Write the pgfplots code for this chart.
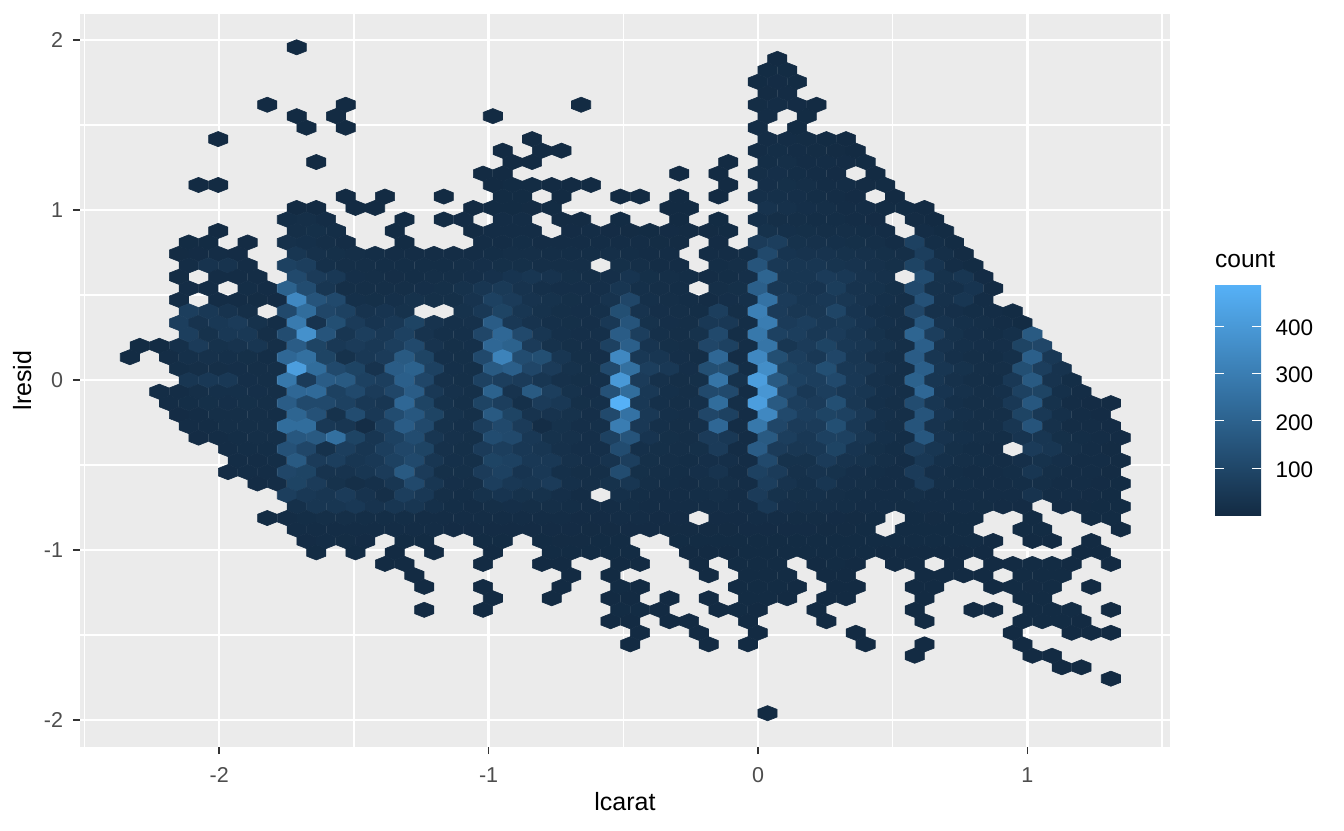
\documentclass[border=0pt]{standalone}
\usepackage{pgfplots}
\usepackage{pgfplotstable}
\usepackage{fontspec}
\setmainfont{Liberation Sans}
\pgfplotsset{compat=1.18}
\definecolor{panelgrey}{HTML}{EBEBEB}
\definecolor{tickgrey}{HTML}{333333}
\definecolor{textgrey}{HTML}{4D4D4D}
% pointy-top hexagon, 1pt = 1px of the reference
\pgfdeclareplotmark{hexb}{%
  \pgfsetlinewidth{0.6pt}%
  \pgfpathmoveto{\pgfqpoint{0pt}{7.6pt}}%
  \pgfpathlineto{\pgfqpoint{9.6pt}{3.8pt}}%
  \pgfpathlineto{\pgfqpoint{9.6pt}{-3.8pt}}%
  \pgfpathlineto{\pgfqpoint{0pt}{-7.6pt}}%
  \pgfpathlineto{\pgfqpoint{-9.6pt}{-3.8pt}}%
  \pgfpathlineto{\pgfqpoint{-9.6pt}{3.8pt}}%
  \pgfpathclose\pgfusepathqfillstroke}
% one line per hexbin row: lresid, half-bin shift of the row, counts of bins 0..50
\pgfplotstableread[header=false]{
1.957 1  0 0 0 0 0 0 0 0 1 0  0 0 0 0 0 0 0 0 0 0  0 0 0 0 0 0 0 0 0 0  0 0 0 0 0 0 0 0 0 0  0 0 0 0 0 0 0 0 0 0  0
1.889 0  0 0 0 0 0 0 0 0 0 0  0 0 0 0 0 0 0 0 0 0  0 0 0 0 0 0 0 0 0 0  0 0 0 2 0 0 0 0 0 0  0 0 0 0 0 0 0 0 0 0  0
1.822 1  0 0 0 0 0 0 0 0 0 0  0 0 0 0 0 0 0 0 0 0  0 0 0 0 0 0 0 0 0 0  0 0 3 4 0 0 0 0 0 0  0 0 0 0 0 0 0 0 0 0  0
1.754 0  0 0 0 0 0 0 0 0 0 0  0 0 0 0 0 0 0 0 0 0  0 0 0 0 0 0 0 0 0 0  0 0 4 6 3 0 0 0 0 0  0 0 0 0 0 0 0 0 0 0  0
1.687 1  0 0 0 0 0 0 0 0 0 0  0 0 0 0 0 0 0 0 0 0  0 0 0 0 0 0 0 0 0 0  0 0 5 6 0 0 0 0 0 0  0 0 0 0 0 0 0 0 0 0  0
1.619 0  0 0 0 0 0 0 0 1 0 0  0 1 0 0 0 0 0 0 0 0  0 0 0 1 0 0 0 0 0 0  0 0 7 9 6 2 0 0 0 0  0 0 0 0 0 0 0 0 0 0  0
1.552 1  0 0 0 0 0 0 0 0 1 0  1 0 0 0 0 0 0 0 1 0  0 0 0 0 0 0 0 0 0 0  0 0 8 0 3 0 0 0 0 0  0 0 0 0 0 0 0 0 0 0  0
1.484 0  0 0 0 0 0 0 0 0 0 1  0 1 0 0 0 0 0 0 0 0  0 0 0 0 0 0 0 0 0 0  0 0 8 0 3 0 0 0 0 0  0 0 0 0 0 0 0 0 0 0  0
1.417 1  0 0 0 0 1 0 0 0 0 0  0 0 0 0 0 0 0 0 0 0  1 0 0 0 0 0 0 0 0 0  0 0 8 9 7 4 2 0 0 0  0 0 0 0 0 0 0 0 0 0  0
1.349 0  0 0 0 0 0 0 0 0 0 0  0 0 0 0 0 0 0 0 0 1  0 1 1 0 0 0 0 0 0 0  0 0 9 12 10 7 5 2 0 0  0 0 0 0 0 0 0 0 0 0  0
1.282 1  0 0 0 0 0 0 0 0 0 1  0 0 0 0 0 0 0 0 0 2  2 0 0 0 0 0 0 0 0 0  1 0 12 14 10 8 6 4 0 0  0 0 0 0 0 0 0 0 0 0  0
1.214 0  0 0 0 0 0 0 0 0 0 0  0 0 0 0 0 0 0 0 1 2  0 0 0 0 0 0 0 0 1 0  1 0 14 16 12 8 6 0 2 0  0 0 0 0 0 0 0 0 0 0  0
1.147 1  0 0 0 1 1 0 0 0 0 0  0 0 0 0 0 0 0 0 2 3  3 2 2 1 0 0 0 0 0 0  1 0 16 18 14 10 8 5 3 0  0 0 0 0 0 0 0 0 0 0  0
1.079 0  0 0 0 0 0 0 0 0 0 0  0 1 0 1 0 0 1 0 0 3  4 0 2 0 0 1 1 0 1 0  1 0 20 20 16 12 8 6 0 2  0 0 0 0 0 0 0 0 0 0  0
1.012 1  0 0 0 0 0 0 0 0 2 2  0 2 2 0 0 0 0 2 3 4  5 3 0 0 0 0 0 2 2 0  0 0 30 22 16 14 10 8 4 3  2 0 0 0 0 0 0 0 0 0  0
0.944 0  0 0 0 0 0 0 0 0 12 15  10 0 0 0 3 0 3 6 0 8  8 0 5 5 0 3 0 0 2 0  3 0 20 15 14 12 12 10 6 0  5 2 0 0 0 0 0 0 0 0  0
0.877 1  0 0 0 0 2 0 0 0 15 18  12 0 0 3 0 0 0 5 8 10  8 0 6 8 6 5 4 6 5 5  4 0 25 20 18 15 14 12 8 0  10 3 0 0 0 0 0 0 0 0  0
0.809 0  0 0 0 3 4 0 5 0 22 20  15 8 0 0 3 0 0 0 8 10  12 8 8 9 10 8 8 7 5 0  6 0 60 70 25 22 20 18 14 10  80 12 3 0 0 0 0 0 0 0  0
0.742 1  0 0 5 6 8 6 0 0 40 22  18 14 12 10 10 10 8 10 12 14  15 12 12 12 14 12 10 8 0 8  10 12 110 35 30 30 25 22 18 14  70 15 5 0 0 0 0 0 0 0  0
0.674 0  0 0 0 8 30 30 10 0 80 70  20 15 14 12 12 12 12 14 16 18  18 15 14 14 0 18 14 10 10 0  12 15 150 50 40 40 32 30 22 18  90 35 10 4 0 0 0 0 0 0  0
0.607 1  0 0 7 0 10 8 8 0 110 60  50 16 14 13 12 14 14 16 24 35  40 30 18 15 16 35 18 14 12 10  12 16 210 40 40 60 50 30 22 0  120 25 40 6 0 0 0 0 0 0  0
0.539 0  0 0 0 10 10 0 12 8 200 120  40 15 14 14 14 16 18 25 40 55  30 20 16 16 16 40 20 14 12 0  14 18 190 50 40 35 65 30 25 18  110 25 20 35 5 0 0 0 0 0  0
0.471 1  0 0 9 0 10 8 7 6 340 150  110 20 18 20 25 18 18 30 80 60  30 25 18 16 30 100 20 15 12 10  16 20 260 60 40 50 45 30 20 15  140 22 40 8 0 0 0 0 0 0  0
0.404 0  0 0 0 70 50 30 15 0 110 240  100 80 30 35 25 0 0 25 50 90  40 25 18 16 20 130 30 16 14 12  70 14 310 60 45 45 95 35 20 15  100 22 16 12 8 3 0 0 0 0  0
0.336 1  0 0 70 30 50 60 25 12 290 30  130 60 35 50 90 30 20 22 180 50  30 20 18 16 50 150 25 16 14 50  50 12 300 60 70 50 55 35 20 15  160 30 20 14 10 4 0 0 0 0  0
0.269 0  0 0 0 70 25 50 50 15 120 370  150 40 70 50 80 30 20 20 100 220  110 40 20 16 20 180 70 20 14 25  110 12 280 80 70 50 60 40 25 15  210 70 25 16 12 20 170 0 0 0  0
0.201 1  4 4 20 60 25 30 40 14 180 90  50 60 50 70 110 30 18 20 220 200  60 25 18 16 80 190 35 18 14 100  80 12 270 40 60 90 50 40 25 15  190 30 20 16 16 90 100 0 0 0  0
0.134 0  3 0 10 20 22 20 18 12 220 250  90 25 50 60 170 90 20 18 110 320  120 130 40 18 16 340 50 40 16 12  220 10 340 130 70 50 100 40 22 15  180 40 20 14 12 20 190 50 0 0  0
0.066 1  0 0 12 14 15 16 14 14 420 240  110 90 30 180 200 80 20 18 170 190  100 60 25 18 110 250 70 50 16 130  130 12 360 90 70 130 50 45 22 14  190 40 25 14 14 130 70 30 0 0  0
-0.001 0  0 0 0 40 50 50 16 14 280 60  180 170 80 70 190 100 22 18 80 70  60 40 22 18 20 400 60 22 14 18  270 25 420 170 80 70 110 50 22 14  200 40 22 14 12 50 170 30 12 0  0
-0.069 1  0 8 10 14 20 20 16 14 220 230  80 110 60 100 180 50 22 18 200 30  170 70 25 16 140 240 50 20 14 110  110 10 390 100 50 70 50 40 20 14  220 35 22 14 20 80 90 20 10 0  0
-0.136 0  0 0 8 12 18 16 18 14 180 110  110 80 50 40 220 90 25 18 90 70  20 60 50 18 20 487 50 20 14 20  240 15 420 170 70 60 130 45 20 14  120 40 20 14 14 50 160 25 10 6  5
-0.204 1  0 0 6 10 14 14 14 12 210 140  25 120 50 120 160 90 25 18 170 90  30 30 25 16 110 260 50 20 16 100  80 10 340 110 70 90 80 50 20 14  150 35 20 14 14 90 50 20 10 6  0
-0.271 0  0 0 0 8 10 14 14 14 240 240  50 40 10 70 180 110 25 20 70 110  60 10 25 16 20 300 50 20 14 20  220 10 280 100 60 60 130 50 20 14  150 30 18 14 14 40 150 22 10 8  6
-0.339 1  0 0 0 6 8 12 14 14 160 170  250 90 40 80 120 40 22 18 120 110  50 25 22 16 80 150 35 18 14 60  50 10 170 70 50 80 80 40 20 12  160 30 20 14 12 35 40 18 12 8  6
-0.406 0  0 0 0 0 0 8 12 12 140 100  25 70 40 70 100 90 22 18 60 70  50 40 22 16 16 120 20 18 14 18  60 8 180 60 45 50 90 35 18 12  70 40 18 12 10 0 60 40 14 8  5
-0.474 1  0 0 0 0 0 8 10 12 170 60  70 40 50 80 110 40 20 18 90 80  50 50 22 16 30 70 18 14 12 16  16 8 110 25 25 60 30 25 14 10  50 20 14 12 10 16 25 16 10 8  5
-0.542 0  0 0 0 0 0 6 8 10 100 90  30 30 40 60 170 60 18 18 60 80  35 50 20 14 14 120 18 14 12 16  30 8 80 60 22 30 25 16 12 8  60 16 12 10 10 12 40 14 10 8  5
-0.609 1  0 0 0 0 0 0 6 8 90 60  25 15 20 40 110 40 16 14 70 50  40 60 20 14 25 40 14 12 10 14  14 8 70 30 20 40 16 14 10 8  60 14 12 10 10 12 14 10 8 6  4
-0.677 0  0 0 0 0 0 0 0 0 70 50  40 60 30 15 70 50 14 12 25 35  25 25 16 10 0 20 12 10 10 12  14 8 60 25 18 20 14 12 10 8  14 10 10 8 8 10 30 10 8 6  4
-0.744 1  0 0 0 0 0 0 0 0 20 40  40 50 30 40 40 20 12 10 14 16  14 14 12 10 10 12 10 8 8 10  10 8 50 16 14 14 12 10 8 7  10 8 8 7 6 6 0 6 5 4  3
-0.812 0  0 0 0 0 0 0 0 4 10 12  14 14 12 12 12 10 8 8 8 8  8 8 8 6 6 8 8 6 6 0  6 6 8 8 7 7 6 5 4 0  4 5 4 4 0 0 3 0 0 3  3
-0.879 1  0 0 0 0 0 0 0 0 8 10  10 10 10 10 8 8 6 6 6 6  6 6 6 5 5 6 6 5 5 5  5 6 6 6 6 5 5 4 0 4  4 4 3 0 0 3 3 0 0 0  2
-0.947 0  0 0 0 0 0 0 0 0 0 6  8 7 6 0 4 4 0 0 4 4  0 4 5 5 4 4 0 0 3 3  3 4 4 4 4 4 3 3 3 3  3 3 3 3 2 0 2 2 0 2  0
-1.014 1  0 0 0 0 0 0 0 0 0 3  0 3 0 2 0 2 0 0 2 0  0 3 3 3 3 3 0 0 2 2  2 3 4 4 3 3 3 3 2 2  2 2 2 2 0 0 0 0 2 2  0
-1.082 0  0 0 0 0 0 0 0 0 0 0  0 0 0 2 1 0 0 0 2 0  0 2 2 0 0 2 2 0 0 2  0 3 4 3 0 2 3 2 0 2  2 0 2 0 1 2 3 3 2 0  1
-1.149 1  0 0 0 0 0 0 0 0 0 0  0 0 0 0 1 0 0 0 0 0  0 0 2 0 1 0 0 0 0 1  0 3 4 3 0 2 2 0 0 0  2 2 2 1 0 3 4 3 0 0  0
-1.217 0  0 0 0 0 0 0 0 0 0 0  0 0 0 0 0 1 0 0 1 0  0 0 1 0 0 3 1 0 0 0  0 3 4 3 2 0 2 2 0 0  2 2 0 0 2 4 5 3 0 1  0
-1.284 1  0 0 0 0 0 0 0 0 0 0  0 0 0 0 0 0 0 0 1 0  0 1 0 0 2 2 0 1 0 1  0 3 3 2 0 2 2 0 0 0  1 0 0 0 0 4 4 0 0 0  0
-1.352 0  0 0 0 0 0 0 0 0 0 0  0 0 0 0 0 1 0 0 1 0  0 0 0 0 0 4 3 1 0 0  1 3 2 0 0 1 0 0 0 0  1 0 0 1 1 0 3 4 3 0  1
-1.419 1  0 0 0 0 0 0 0 0 0 0  0 0 0 0 0 0 0 0 0 0  0 0 0 0 2 2 0 1 1 0  0 1 0 0 0 1 0 0 0 0  1 0 0 0 0 3 4 3 2 0  0
-1.487 0  0 0 0 0 0 0 0 0 0 0  0 0 0 0 0 0 0 0 0 0  0 0 0 0 0 0 1 0 0 1  0 0 1 0 0 0 0 1 0 0  0 0 0 0 0 2 0 0 2 1  1
-1.555 1  0 0 0 0 0 0 0 0 0 0  0 0 0 0 0 0 0 0 0 0  0 0 0 0 0 1 0 0 0 1  0 1 0 0 0 0 0 1 0 0  1 0 0 0 0 2 0 0 0 0  0
-1.622 0  0 0 0 0 0 0 0 0 0 0  0 0 0 0 0 0 0 0 0 0  0 0 0 0 0 0 0 0 0 0  0 0 0 0 0 0 0 0 0 0  1 0 0 0 0 0 2 1 0 0  0
-1.690 1  0 0 0 0 0 0 0 0 0 0  0 0 0 0 0 0 0 0 0 0  0 0 0 0 0 0 0 0 0 0  0 0 0 0 0 0 0 0 0 0  0 0 0 0 0 0 0 2 1 0  0
-1.757 0  0 0 0 0 0 0 0 0 0 0  0 0 0 0 0 0 0 0 0 0  0 0 0 0 0 0 0 0 0 0  0 0 0 0 0 0 0 0 0 0  0 0 0 0 0 0 0 0 0 0  1
-1.960 1  0 0 0 0 0 0 0 0 0 0  0 0 0 0 0 0 0 0 0 0  0 0 0 0 0 0 0 0 0 0  0 0 1 0 0 0 0 0 0 0  0 0 0 0 0 0 0 0 0 0  0
}\hextab

\begin{document}
\begin{tikzpicture}
  \path[use as bounding box] (-80pt,-83pt) rectangle (1264pt,747pt);
  \begin{axis}[
    at={(0pt,0pt)},
    anchor=south west,
    scale only axis,
    width=1090pt,
    height=733pt,
    xmin=-2.5167, xmax=1.5293,
    ymin=-2.1588, ymax=2.1529,
    axis background/.style={fill=panelgrey},
    axis line style={draw=none},
    xtick={-2,-1,0,1},
    xticklabels={-2,-1,0,1},
    ytick={-2,-1,0,1,2},
    yticklabels={-2,-1,0,1,2},
    minor xtick={-2.5,-1.5,-0.5,0.5,1.5},
    minor ytick={-1.5,-0.5,0.5,1.5},
    xmajorgrids, ymajorgrids, xminorgrids, yminorgrids,
    major grid style={white,line width=2.6pt},
    minor grid style={white,line width=1.3pt},
    xtick pos=lower, ytick pos=left,
    tick align=outside,
    major tick length=7pt,
    minor tick length=0pt,
    tick style={tickgrey,line width=1.5pt},
    tick label style={font=\fontsize{21.5}{22}\selectfont,text=textgrey},
    xticklabel style={yshift=-10pt},
    yticklabel style={xshift=-6.5pt},
    xlabel={lcarat},
    ylabel={lresid},
    label style={font=\fontsize{25}{26}\selectfont,text=black},
    xlabel style={yshift=-3pt},
    ylabel style={yshift=5.5pt},
    colormap={ggblue}{rgb255=(19,43,67) rgb255=(50,110,158) rgb255=(86,177,247)},
    point meta min=1,
    point meta max=487,
    colorbar,
    colorbar/width=46pt,
    colorbar style={
      at={(1.0413,0.3165)},
      anchor=south west,
      scale only axis,
      width=46pt,
      height=230pt,
      axis line style={draw=none},
      ytick={100,200,300,400},
      yticklabels={100,200,300,400},
      ytick pos=both,
      yticklabel pos=right,
      tick align=inside,
      major tick length=9pt,
      tick style={white,line width=0.9pt},
      yticklabel style={font=\fontsize{22.5}{23}\selectfont,text=black,xshift=11pt,yshift=-1.5pt},
    },
  ]
    \pgfplotsinvokeforeach{2,...,52}{
      \addplot[
        scatter,
        only marks,
        mark=hexb,
        scatter src=explicit,
        scatter/use mapped color={fill=mapped color,draw=mapped color},
      ] table[
        x expr={\thisrowno{#1}>0 ? -2.3315+0.036414*\thisrowno{1}+0.072829*(#1-2) : nan},
        y index=0,
        meta index=#1,
      ] {\hextab};
    }
  \end{axis}
  \node[anchor=west,inner sep=0pt,font=\fontsize{24.5}{25}\selectfont] at (1135pt,487pt) {count};
\end{tikzpicture}
\end{document}
